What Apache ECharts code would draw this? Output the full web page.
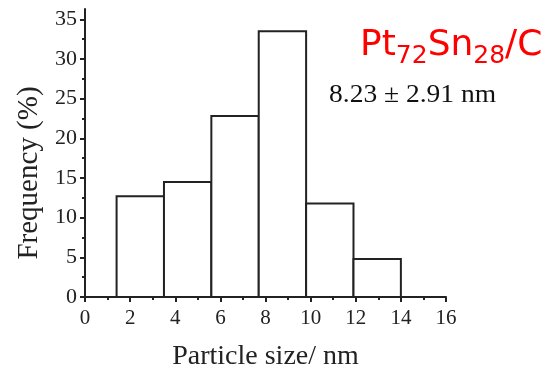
<!DOCTYPE html>
<html><head><meta charset="utf-8">
<script src="https://cdn.jsdelivr.net/npm/echarts@6/dist/echarts.min.js"></script>
<style>html,body{margin:0;padding:0;background:#fff}#c{width:548px;height:369px}</style>
</head><body><div id="c"></div>
<script>
const binStarts = [1.4, 3.5, 5.6, 7.7, 9.8, 11.9];
const binEnds = [3.5, 5.6, 7.7, 9.8, 11.9, 14.0];
const frequencies = [12.7, 14.5, 22.8, 33.5, 11.8, 4.8];
const yTicks = [0, 5, 10, 15, 20, 25, 30, 35];
const yMinorTicks = [2.5, 7.5, 12.5, 17.5, 22.5, 27.5, 32.5];
const xAxisTitle = 'Particle size/ nm';
const yAxisTitle = 'Frequency (%)';
const statText = '8.23 \u00b1 2.91 nm';

const serif = 'Liberation Serif';
const ink = '#222';
const chart = echarts.init(document.getElementById('c'), null, {renderer: 'canvas'});
chart.setOption({
  backgroundColor: '#fff',
  animation: false,
  grid: {left: 85, right: 102, top: 9, bottom: 72, outerBoundsMode: 'none'},
  xAxis: {
    type: 'value', min: 0, max: 16, interval: 2,
    name: xAxisTitle, nameLocation: 'middle', nameGap: 46,
    nameTextStyle: {fontFamily: serif, fontSize: 28, color: ink},
    axisLine: {lineStyle: {color: ink, width: 2}},
    axisTick: {length: 5, lineStyle: {color: ink, width: 2}},
    minorTick: {show: true, splitNumber: 2, length: 3, lineStyle: {color: ink, width: 2}},
    axisLabel: {fontFamily: serif, fontSize: 21, color: ink, margin: 11},
    splitLine: {show: false}
  },
  yAxis: [{
    type: 'value', min: 0, max: 36.3,
    name: yAxisTitle, nameLocation: 'middle', nameGap: 39,
    nameTextStyle: {fontFamily: serif, fontSize: 29, color: ink, padding: [0, 40, 0, 0]},
    axisLine: {show: true, lineStyle: {color: ink, width: 2}},
    axisTick: {show: true, length: 5, customValues: yTicks, lineStyle: {color: ink, width: 2}},
    axisLabel: {fontFamily: serif, fontSize: 22, color: ink, margin: 8, customValues: yTicks},
    splitLine: {show: false}
  }, {
    type: 'value', min: 0, max: 36.3, position: 'left',
    axisLine: {show: false},
    axisTick: {show: true, length: 3, customValues: yMinorTicks, lineStyle: {color: ink, width: 2}},
    axisLabel: {show: false},
    splitLine: {show: false}
  }],
  graphic: [{
    type: 'text', left: 329, top: 83, scaleX: 1.1,
    style: {text: statText, fontFamily: serif, fontSize: 25, fill: '#111'}
  }, {
    type: 'text', left: 360, top: 20,
    style: {
      text: '{m|Pt}{s|72}{m|Sn}{s|28}{m|/C}',
      rich: {
        m: {fontFamily: 'DejaVu Sans', fontSize: 36, fill: '#ff0000', lineHeight: 46, verticalAlign: 'middle'},
        s: {fontFamily: 'DejaVu Sans', fontSize: 25, fill: '#ff0000', lineHeight: 22, verticalAlign: 'bottom', padding: [24, 0, 0, 0]}
      }
    }
  }],
  series: [{
    type: 'custom',
    xAxisIndex: 0, yAxisIndex: 0,
    data: binStarts.map((s, i) => [s, binEnds[i], frequencies[i]]),
    encode: {x: [0, 1], y: 2},
    renderItem: function (params, api) {
      const p0 = api.coord([api.value(0), api.value(2)]);
      const p1 = api.coord([api.value(1), 0]);
      return {
        type: 'rect',
        shape: {x: p0[0], y: p0[1], width: p1[0] - p0[0], height: p1[1] - p0[1]},
        style: {fill: '#fff', stroke: ink, lineWidth: 2}
      };
    }
  }]
});
</script></body></html>
